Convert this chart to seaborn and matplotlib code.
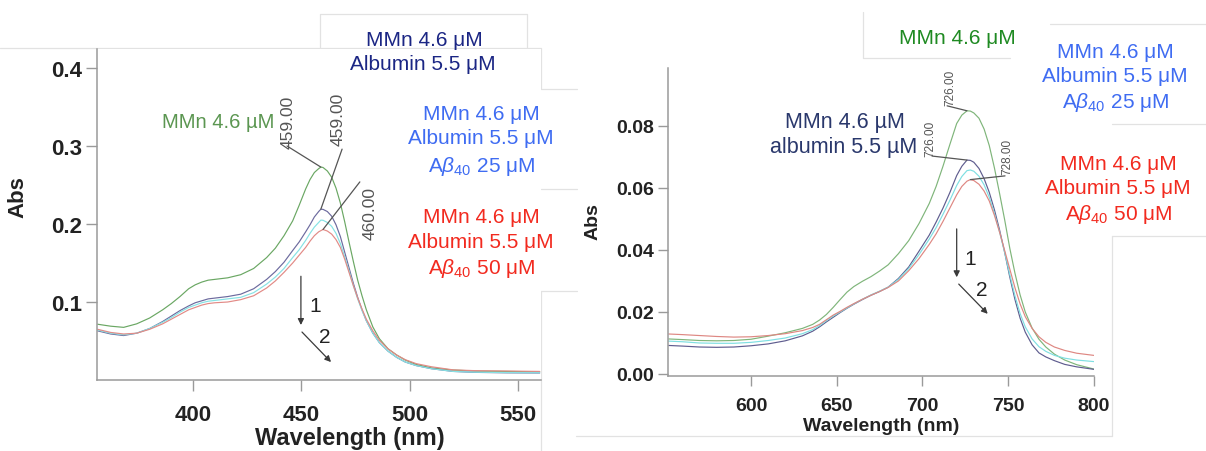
import numpy as np
import pandas as pd
import matplotlib
matplotlib.use("Agg")
import matplotlib.pyplot as plt
from matplotlib.lines import Line2D
import seaborn as sns

# ---------------- Soret region (left panel) ----------------
wl_soret = [356, 362, 368, 374, 380, 386, 390, 394, 398, 401, 404, 407, 410, 416,
            422, 428, 434, 438, 442, 446, 449, 452, 454, 456, 458, 459, 460, 462,
            464, 466, 468, 470, 472, 474, 476, 478, 480, 483, 486, 490, 494, 498,
            503, 510, 520, 530, 545, 560]
soret_mmn = [0.0715, 0.069, 0.0675, 0.072, 0.0795, 0.090, 0.098, 0.107, 0.117, 0.122,
             0.1255, 0.128, 0.129, 0.131, 0.135, 0.143, 0.157, 0.169, 0.185, 0.204,
             0.224, 0.245, 0.257, 0.266, 0.271, 0.273, 0.2725, 0.268, 0.260, 0.246,
             0.227, 0.203, 0.177, 0.152, 0.128, 0.108, 0.090, 0.068, 0.053, 0.040,
             0.032, 0.0255, 0.020, 0.0155, 0.0128, 0.0115, 0.011, 0.0105]
soret_alb = [0.063, 0.059, 0.057, 0.060, 0.066, 0.075, 0.082, 0.089, 0.095, 0.099,
             0.1015, 0.104, 0.105, 0.107, 0.110, 0.117, 0.129, 0.139, 0.151, 0.166,
             0.177, 0.190, 0.199, 0.209, 0.216, 0.219, 0.2188, 0.216, 0.210, 0.199,
             0.184, 0.164, 0.144, 0.124, 0.106, 0.090, 0.076, 0.060, 0.048, 0.037,
             0.029, 0.023, 0.0185, 0.0145, 0.011, 0.0098, 0.0092, 0.009]
soret_ab25 = [0.064, 0.060, 0.058, 0.060, 0.066, 0.074, 0.080, 0.087, 0.093, 0.096,
              0.099, 0.101, 0.102, 0.104, 0.106, 0.112, 0.123, 0.132, 0.143, 0.157,
              0.167, 0.179, 0.188, 0.196, 0.202, 0.205, 0.2048, 0.202, 0.197, 0.188,
              0.175, 0.158, 0.140, 0.121, 0.104, 0.089, 0.076, 0.060, 0.048, 0.037,
              0.029, 0.023, 0.0185, 0.0145, 0.011, 0.010, 0.0095, 0.0093]
soret_ab50 = [0.065, 0.061, 0.059, 0.060, 0.065, 0.072, 0.078, 0.084, 0.090, 0.093,
              0.096, 0.098, 0.099, 0.100, 0.103, 0.108, 0.118, 0.127, 0.138, 0.150,
              0.160, 0.170, 0.178, 0.185, 0.190, 0.1915, 0.193, 0.191, 0.187, 0.180,
              0.170, 0.155, 0.138, 0.121, 0.105, 0.091, 0.078, 0.063, 0.051, 0.040,
              0.032, 0.026, 0.021, 0.017, 0.013, 0.012, 0.0115, 0.011]

# ---------------- Q band region (right panel) ----------------
wl_q = [552, 560, 570, 580, 590, 600, 610, 620, 630, 636, 640, 644, 648, 652, 656,
        660, 665, 670, 675, 680, 686, 692, 698, 704, 708, 712, 716, 720, 723, 726,
        728, 730, 733, 736, 739, 742, 745, 748, 751, 754, 757, 760, 764, 768, 772,
        777, 783, 790, 800]
q_mmn = [0.0113, 0.0111, 0.0108, 0.0107, 0.0108, 0.0112, 0.0122, 0.0133, 0.0147,
         0.0160, 0.0174, 0.0192, 0.0215, 0.0240, 0.0264, 0.0282, 0.0299, 0.0314,
         0.0332, 0.0352, 0.0388, 0.0430, 0.0485, 0.0550, 0.0605, 0.0670, 0.0740,
         0.0808, 0.0835, 0.0849, 0.0848, 0.0842, 0.0825, 0.0790, 0.0737, 0.0665,
         0.0583, 0.0497, 0.0405, 0.0325, 0.0255, 0.0200, 0.0148, 0.0112, 0.0087,
         0.0064, 0.0045, 0.0030, 0.0016]
q_alb = [0.0092, 0.0090, 0.0087, 0.0086, 0.0087, 0.0091, 0.0097, 0.0107, 0.0123,
         0.0138, 0.0152, 0.0168, 0.0183, 0.0198, 0.0212, 0.0225, 0.0240, 0.0254,
         0.0266, 0.0280, 0.0308, 0.0345, 0.0396, 0.0448, 0.0490, 0.0535, 0.0585,
         0.0640, 0.0670, 0.0690, 0.0689, 0.0683, 0.0663, 0.0630, 0.0586, 0.0530,
         0.0465, 0.0392, 0.0312, 0.0240, 0.0180, 0.0135, 0.0094, 0.0068, 0.0055,
         0.0043, 0.0031, 0.0023, 0.0015]
q_ab25 = [0.0106, 0.0104, 0.0100, 0.0099, 0.0099, 0.0102, 0.0108, 0.0116, 0.0130,
          0.0143, 0.0156, 0.0172, 0.0187, 0.0200, 0.0213, 0.0226, 0.0241, 0.0255,
          0.0267, 0.0280, 0.0305, 0.0340, 0.0385, 0.0435, 0.0472, 0.0515, 0.0560,
          0.0608, 0.0637, 0.0656, 0.0658, 0.0654, 0.0638, 0.0610, 0.0570, 0.0518,
          0.0458, 0.0392, 0.0320, 0.0252, 0.0195, 0.0152, 0.0113, 0.0088, 0.0073,
          0.0060, 0.0051, 0.0045, 0.0040]
q_ab50 = [0.0129, 0.0127, 0.0124, 0.0121, 0.0119, 0.0120, 0.0124, 0.0130, 0.0140,
          0.0150, 0.0160, 0.0175, 0.0190, 0.0202, 0.0215, 0.0227, 0.0241, 0.0254,
          0.0266, 0.0279, 0.0300, 0.0333, 0.0372, 0.0418, 0.0452, 0.0492, 0.0535,
          0.0578, 0.0605, 0.0622, 0.0627, 0.0624, 0.0612, 0.0590, 0.0558, 0.0512,
          0.0458, 0.0398, 0.0338, 0.0278, 0.0226, 0.0185, 0.0147, 0.0120, 0.0102,
          0.0087, 0.0076, 0.0067, 0.0060]

samples = ["MMn", "MMn + albumin", "MMn + albumin + Ab40 25", "MMn + albumin + Ab40 50"]
left_palette = dict(zip(samples, ["#6aa763", "#6c6a9e", "#86e2e4", "#e28a86"]))
right_palette = dict(zip(samples, ["#7fb57a", "#5f5d8f", "#7fdfe2", "#de8782"]))

soret_yticks = [0.1, 0.2, 0.3, 0.4]
soret_xticks = [400, 450, 500, 550]
q_yticks = [0.00, 0.02, 0.04, 0.06, 0.08]
q_xticks = [600, 650, 700, 750, 800]


def long_frame(wl, series):
    parts = [pd.DataFrame({"Wavelength": wl, "Abs": vals, "Sample": name})
             for name, vals in zip(samples, series)]
    return pd.concat(parts, ignore_index=True)


soret_df = long_frame(wl_soret, [soret_mmn, soret_alb, soret_ab25, soret_ab50])
q_df = long_frame(wl_q, [q_mmn, q_alb, q_ab25, q_ab50])

sns.set_theme(style="ticks")
plt.rcParams["font.family"] = ["Liberation Sans", "DejaVu Sans"]
plt.rcParams["mathtext.fontset"] = "custom"
plt.rcParams["mathtext.rm"] = "Liberation Sans"
plt.rcParams["mathtext.it"] = "Liberation Sans:italic"
plt.rcParams["mathtext.bf"] = "Liberation Sans:bold"

W, H = 1206, 452
fig = plt.figure(figsize=(W / 100, H / 100), dpi=100)
fig.patch.set_facecolor("white")


def px_axes(x0, y_top, x1, y_bot):
    return fig.add_axes([x0 / W, 1 - y_bot / H, (x1 - x0) / W, (y_bot - y_top) / H])


def ftext(x, y, s, **kw):
    kw.setdefault("ha", "center")
    kw.setdefault("va", "center")
    fig.text(x / W, 1 - y / H, s, **kw)


def fline(xs, ys, color="#e2e2e2", lw=0.9):
    fig.add_artist(Line2D([x / W for x in xs], [1 - y / H for y in ys],
                          color=color, lw=lw, transform=fig.transFigure, zorder=0))


spine_col = "#9a9a9a"
text_col = "#222222"
peak_col = "#555555"
arrow_kw = dict(arrowstyle="-|>", color="#3a3a3a", lw=0.9, mutation_scale=9,
                shrinkA=0, shrinkB=0)


def style_axes(ax, tick_size, x_pad, tick_len):
    ax.tick_params(axis="x", length=tick_len, width=1, color=spine_col, pad=x_pad,
                   labelsize=tick_size, labelcolor=text_col)
    ax.tick_params(axis="y", length=tick_len, width=1, color=spine_col, pad=3,
                   labelsize=tick_size, labelcolor=text_col)
    for lab in ax.get_xticklabels() + ax.get_yticklabels():
        lab.set_fontweight("bold")
    sns.despine(ax=ax)
    for sp in ("left", "bottom"):
        ax.spines[sp].set_color(spine_col)
        ax.spines[sp].set_linewidth(1.1)


def mark_peaks(ax, wl, peaks, size):
    for vals, tail, lab_xy in peaks:
        i = int(np.argmax(vals))
        ax.annotate("", xy=(wl[i], vals[i]), xytext=tail,
                    arrowprops=dict(arrowstyle="-", color=peak_col, lw=0.9,
                                    shrinkA=0, shrinkB=0))
        ax.text(lab_xy[0], lab_xy[1], f"{wl[i]:.2f}", rotation=90, ha="center",
                va="center", fontsize=size, color=peak_col)


# ---------------- left panel ----------------
axL = px_axes(97, 50, 541, 381)
sns.lineplot(data=soret_df, x="Wavelength", y="Abs", hue="Sample", palette=left_palette,
             lw=0.85, legend=False, ax=axL, sort=False)
axL.set_xlim(355.7, 560.6)
axL.set_ylim(0.0, 0.4244)
axL.set_xticks(soret_xticks)
axL.set_yticks(soret_yticks)
axL.set_yticklabels([f"{v:.1f}" for v in soret_yticks])
style_axes(axL, 16, 9, 8)
axL.set_xlabel("Wavelength (nm)", fontsize=17, fontweight="bold", color=text_col)
axL.set_ylabel("Abs", fontsize=16, fontweight="bold", color=text_col)
axL.xaxis.set_label_coords((350 - 97) / 444, (381 - 438) / 331)
axL.xaxis.label.set_va("center")
axL.yaxis.set_label_coords((18 - 97) / 444, (381 - 197) / 331)
axL.yaxis.label.set_va("center")

mark_peaks(axL, wl_soret,
           [(soret_mmn, (443.4, 0.300), (443.8, 0.331)),
            (soret_alb, (468.8, 0.296), (466.9, 0.335)),
            (soret_ab50, (477.0, 0.254), (481.7, 0.215))], 12.5)

axL.annotate("", xy=(449.8, 0.0705), xytext=(449.8, 0.133), arrowprops=arrow_kw)
axL.annotate("", xy=(463.7, 0.023), xytext=(450.3, 0.0615), arrowprops=arrow_kw)
axL.text(456.3, 0.096, "1", fontsize=15, color=text_col, ha="center", va="center")
axL.text(460.9, 0.056, "2", fontsize=15, color=text_col, ha="center", va="center")

# ---------------- right panel ----------------
axR = px_axes(668, 69, 1094, 377)
sns.lineplot(data=q_df, x="Wavelength", y="Abs", hue="Sample", palette=right_palette,
             lw=0.85, legend=False, ax=axR, sort=False)
axR.set_xlim(551.6, 800.1)
axR.set_ylim(-0.00065, 0.0987)
axR.set_xticks(q_xticks)
axR.set_yticks(q_yticks)
axR.set_yticklabels([f"{v:.2f}" for v in q_yticks])
style_axes(axR, 14, 8, 7)
axR.set_xlabel("Wavelength (nm)", fontsize=14, fontweight="bold", color=text_col)
axR.set_ylabel("Abs", fontsize=14, fontweight="bold", color=text_col)
axR.xaxis.set_label_coords(0.5, (377 - 427) / 308)
axR.xaxis.label.set_va("center")
axR.yaxis.set_label_coords((593 - 668) / 426, (377 - 222) / 308)
axR.yaxis.label.set_va("center")

mark_peaks(axR, wl_q,
           [(q_mmn, (714.4, 0.0865), (716.1, 0.0926)),
            (q_alb, (705.6, 0.0703), (704.4, 0.0761)),
            (q_ab50, (748.2, 0.0639), (749.4, 0.0703))], 8.5)

axR.annotate("", xy=(720.0, 0.0312), xytext=(720.0, 0.0468), arrowprops=arrow_kw)
axR.annotate("", xy=(738.1, 0.0194), xytext=(721.2, 0.029), arrowprops=arrow_kw)
axR.text(727.8, 0.0371, "1", fontsize=15, color=text_col, ha="center", va="center")
axR.text(734.8, 0.0274, "2", fontsize=15, color=text_col, ha="center", va="center")

# ---------------- faint panel frames ----------------
fline([320, 320, 527, 527], [48, 15, 15, 48])
fline([0, 541, 541, 577], [49, 49, 90, 90])
fline([541, 577], [190, 190])
fline([541, 577], [292, 292])
fline([541, 541], [292, 452])
fline([863, 863, 1010], [13, 59, 59])
fline([1050, 1206], [25, 25])
fline([1112, 1206], [125, 125])
fline([1112, 1206], [237, 237])
fline([1112, 1112], [237, 437])
fline([576, 1112], [437, 437])

# ---------------- sample captions ----------------
navy = "#1b2684"
blue = "#3f6cf2"
red = "#f22a1f"
ab = r"A$\beta_{\mathit{40}}$"

ftext(218, 122, "MMn 4.6 µM", fontsize=14.5, color="#5b9651")

ftext(424, 40, "MMn 4.6 μM", fontsize=15, color=navy)
ftext(423, 64, "Albumin 5.5 μM", fontsize=15, color=navy)

ftext(481, 115, "MMn 4.6 μM", fontsize=15, color=blue)
ftext(481, 139, "Albumin 5.5 μM", fontsize=15, color=blue)
ftext(482, 166, ab + " 25 μM", fontsize=15, color=blue)

ftext(481, 218, "MMn 4.6 μM", fontsize=15, color=red)
ftext(481, 242, "Albumin 5.5 μM", fontsize=15, color=red)
ftext(482, 268, ab + " 50 μM", fontsize=15, color=red)

ftext(957, 38, "MMn 4.6 μM", fontsize=15, color="#1f8a22")

ftext(845, 123, "MMn 4.6 µM", fontsize=15.5, color="#2a386c")
ftext(844, 148, "albumin 5.5 µM", fontsize=15.5, color="#2a386c")

ftext(1115, 52, "MMn 4.6 μM", fontsize=15, color=blue)
ftext(1115, 76, "Albumin 5.5 μM", fontsize=15, color=blue)
ftext(1116, 102, ab + " 25 μM", fontsize=15, color=blue)

ftext(1118, 165, "MMn 4.6 μM", fontsize=15, color=red)
ftext(1118, 189, "Albumin 5.5 μM", fontsize=15, color=red)
ftext(1119, 215, ab + " 50 μM", fontsize=15, color=red)

fig.savefig("out.png", dpi=100, facecolor="white")
